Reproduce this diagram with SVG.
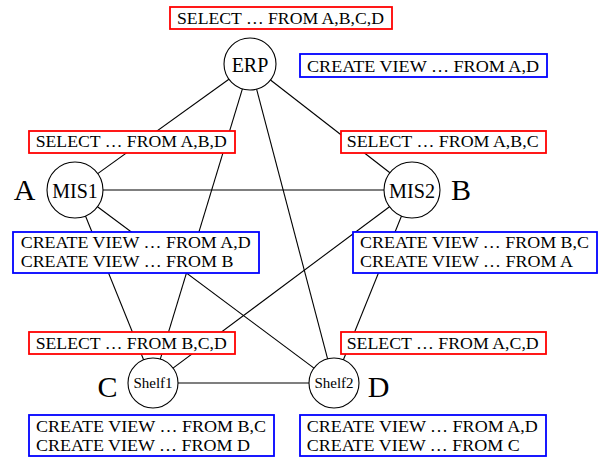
<svg xmlns="http://www.w3.org/2000/svg" width="602" height="458" viewBox="0 0 602 458">
<style>
text{font-family:"Liberation Serif","DejaVu Serif",serif;fill:#000}
.edge{stroke:#000;stroke-width:1.1;fill:none}
.node{fill:#fff;stroke:#000;stroke-width:1.1}
.name{font-size:20px;text-anchor:middle}
.small{font-size:15px;text-anchor:middle}
.letter{font-size:30px;text-anchor:middle}
.sel{fill:#fff;stroke:#ff0000;stroke-width:1.8}
.cv{fill:#fff;stroke:#0000ff;stroke-width:1.8}
.bt{font-size:17px}
</style>
<rect width="602" height="458" fill="#fff"/>
<g id="connectors">
<line class="edge" x1="228.9" y1="79.2" x2="97.7" y2="173.6"/>
<line class="edge" x1="270.5" y1="80" x2="389.9" y2="172.8"/>
<line class="edge" x1="242.4" y1="88.9" x2="160.3" y2="359.1"/>
<line class="edge" x1="256.6" y1="89.1" x2="327.6" y2="358.8"/>
<line class="edge" x1="103" y1="190" x2="384" y2="190"/>
<line class="edge" x1="85.5" y1="216" x2="143.6" y2="359.8"/>
<line class="edge" x1="97.5" y1="206.7" x2="314" y2="368.1"/>
<line class="edge" x1="389.5" y1="206.7" x2="173" y2="368.1"/>
<line class="edge" x1="401.5" y1="216" x2="343.4" y2="359.8"/>
<line class="edge" x1="178" y1="383" x2="309" y2="383"/>
</g>
<g id="ERP">
<circle class="node" cx="250" cy="64" r="26"/>
<text class="name" x="250" y="71.5">ERP</text>
<rect class="sel" x="170" y="7" width="222" height="22"/>
<text class="bt" x="177" y="23.5" textLength="207" lengthAdjust="spacingAndGlyphs">SELECT … FROM A,B,C,D</text>
<rect class="cv" x="300" y="54" width="247" height="23"/>
<text class="bt" x="307" y="72" textLength="232" lengthAdjust="spacingAndGlyphs">CREATE VIEW … FROM A,D</text>
</g>
<g id="MIS1">
<circle class="node" cx="75" cy="190" r="28"/>
<text class="name" x="75" y="197.5">MIS1</text>
<text class="letter" x="24.5" y="200">A</text>
<rect class="sel" x="29" y="131" width="206" height="22"/>
<text class="bt" x="35.7" y="147" textLength="191" lengthAdjust="spacingAndGlyphs">SELECT … FROM A,B,D</text>
<rect class="cv" x="13" y="232" width="246" height="41"/>
<text class="bt" x="20.7" y="247.5" textLength="230" lengthAdjust="spacingAndGlyphs">CREATE VIEW … FROM A,D</text>
<text class="bt" x="20.7" y="267" textLength="212.7" lengthAdjust="spacingAndGlyphs">CREATE VIEW … FROM B</text>
</g>
<g id="MIS2">
<circle class="node" cx="412" cy="190" r="28"/>
<text class="name" x="412" y="197.5" textLength="46" lengthAdjust="spacingAndGlyphs">MIS2</text>
<text class="letter" x="461" y="200">B</text>
<rect class="sel" x="341" y="131" width="205" height="22"/>
<text class="bt" x="346.7" y="147" textLength="192" lengthAdjust="spacingAndGlyphs">SELECT … FROM A,B,C</text>
<rect class="cv" x="353" y="232" width="244" height="41"/>
<text class="bt" x="360" y="247.5" textLength="229" lengthAdjust="spacingAndGlyphs">CREATE VIEW … FROM B,C</text>
<text class="bt" x="360" y="267" textLength="213" lengthAdjust="spacingAndGlyphs">CREATE VIEW … FROM A</text>
</g>
<g id="Shelf1">
<circle class="node" cx="153" cy="383" r="25"/>
<text class="small" x="153" y="388">Shelf1</text>
<text class="letter" x="107.5" y="397">C</text>
<rect class="sel" x="29" y="332" width="206" height="22"/>
<text class="bt" x="35.7" y="348.5" textLength="191" lengthAdjust="spacingAndGlyphs">SELECT … FROM B,C,D</text>
<rect class="cv" x="29" y="415" width="245" height="41"/>
<text class="bt" x="36" y="432" textLength="230" lengthAdjust="spacingAndGlyphs">CREATE VIEW … FROM B,C</text>
<text class="bt" x="36" y="450.5" textLength="214" lengthAdjust="spacingAndGlyphs">CREATE VIEW … FROM D</text>
</g>
<g id="Shelf2">
<circle class="node" cx="334" cy="383" r="25"/>
<text class="small" x="334" y="388">Shelf2</text>
<text class="letter" x="378.5" y="397">D</text>
<rect class="sel" x="341" y="332" width="205" height="22"/>
<text class="bt" x="346.7" y="348.5" textLength="192" lengthAdjust="spacingAndGlyphs">SELECT … FROM A,C,D</text>
<rect class="cv" x="300" y="415" width="246" height="41"/>
<text class="bt" x="306.7" y="432" textLength="231" lengthAdjust="spacingAndGlyphs">CREATE VIEW … FROM A,D</text>
<text class="bt" x="306.7" y="450.5" textLength="213" lengthAdjust="spacingAndGlyphs">CREATE VIEW … FROM C</text>
</g>
</svg>
